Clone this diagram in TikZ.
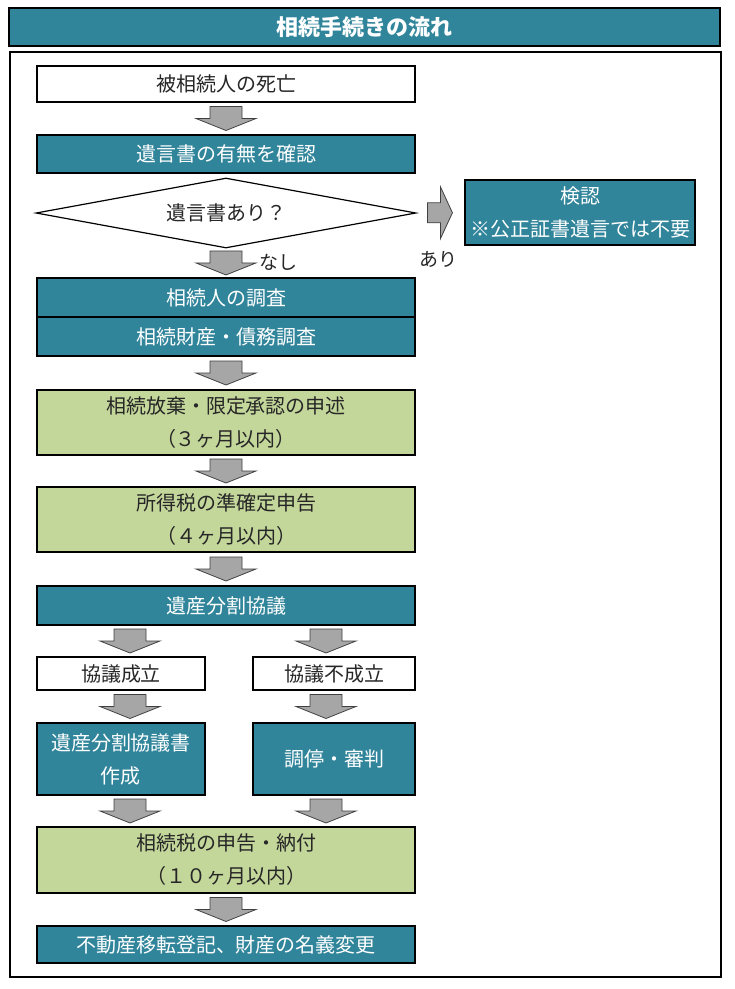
\documentclass[tikz,border=0pt]{standalone}
\usepackage{fontspec}
\setmainfont{Noto Sans CJK JP}
\usetikzlibrary{shapes.geometric,calc}
\definecolor{tealbox}{RGB}{49,133,155}
\definecolor{greenbox}{RGB}{196,215,155}
\definecolor{arrowgray}{RGB}{166,166,166}
\definecolor{txtdark}{RGB}{38,38,38}
\begin{document}
\begin{tikzpicture}[x=1pt,y=-1pt,
  base/.style={draw=black, line width=1.5pt, rectangle, inner sep=0pt, align=center,
    font=\fontsize{20}{33}\selectfont},
  whitebox/.style={base, fill=white, text=txtdark},
  tealb/.style={base, fill=tealbox, text=white},
  greenb/.style={base, fill=greenbox, text=txtdark},
  wide/.style={minimum width=378},
  half/.style={minimum width=168},
  arrowst/.style={draw=black!75, line width=0.8pt, fill=arrowgray, line join=miter},
  darr/.pic={\draw[arrowst] (-16,-12) -- (16,-12) -- (16,0) -- (30,0) -- (0,12) -- (-30,0) -- (-16,0) -- cycle;},
  rarr/.pic={\draw[arrowst] (-13,-10) -- (0,-10) -- (0,-26) -- (12,0) -- (0,26) -- (0,10) -- (-13,10) -- cycle;},
  lbl/.style={font=\fontsize{19}{22}\selectfont, text=txtdark, inner sep=0pt}
]
\useasboundingbox (0,0) rectangle (735,989);
\fill[white] (0,0) rectangle (735,989);

% title and frame
\node[draw=black, line width=1.8pt, fill=tealbox, minimum width=711, minimum height=38,
  text=white, font=\fontsize{22}{26}\selectfont\bfseries, inner sep=0pt] (title) at (364.5,27) {相続手続きの流れ};
\node[draw=black, line width=1.8pt, minimum width=711, minimum height=925, inner sep=0pt] (frame) at (365.5,514.5) {};

% main column
\node[whitebox, wide, minimum height=36] (death) at (226,84) {被相続人の死亡};
\node[tealb, wide, minimum height=38] (check) at (226,154) {遺言書の有無を確認};
\node[draw=black, line width=1.2pt, fill=white, diamond, aspect=5.43, minimum width=380, minimum height=70,
  inner sep=0pt, text=txtdark, font=\fontsize{20}{24}\selectfont] (will) at (226,213) {遺言書あり？};
\node[tealb, minimum width=230, minimum height=65] (probate) at (580,212.5) {検認\\※公正証書遺言では不要};
\node[tealb, wide, minimum height=39] (heirs) at (226,297.5) {相続人の調査};
\node[tealb, wide, minimum height=39] (assets) at (226,336.5) {相続財産・債務調査};
\node[greenb, wide, minimum height=65] (renounce) at (226,422.5) {相続放棄・限定承認の申述\\（３ヶ月以内）};
\node[greenb, wide, minimum height=65] (income) at (226,519.5) {所得税の準確定申告\\（４ヶ月以内）};
\node[tealb, wide, minimum height=39] (council) at (226,605.5) {遺産分割協議};
\node[whitebox, minimum width=168, minimum height=33] (agree) at (121,673.5) {協議成立};
\node[whitebox, minimum width=162, minimum height=33] (disagree) at (334,673.5) {協議不成立};
\node[tealb, minimum width=168, minimum height=72] (doc) at (121,759) {遺産分割協議書\\作成};
\node[tealb, minimum width=162, minimum height=72] (mediate) at (334,759) {調停・審判};
\node[greenb, wide, minimum height=66] (tax) at (226,860) {相続税の申告・納付\\（１０ヶ月以内）};
\node[tealb, wide, minimum height=37] (register) at (226,944.5) {不動産移転登記、財産の名義変更};

% arrows
\coordinate (a1) at ($(death.south)!.5!(check.north)$);
\coordinate (aN) at ($(will.south)!.5!(heirs.north)$);
\coordinate (aY) at ($(will.east)!.5!(probate.west)$);
\coordinate (a3) at ($(assets.south)!.5!(renounce.north)$);
\coordinate (a4) at ($(renounce.south)!.5!(income.north)$);
\coordinate (a5) at ($(income.south)!.5!(council.north)$);
\coordinate (a6l) at ($(agree.north)!.5!(agree.north |- council.south)+(9,0)$);
\coordinate (a6r) at ($(disagree.north)!.5!(disagree.north |- council.south)+(-8,0)$);
\coordinate (a7l) at ($(agree.south)!.5!(doc.north)+(9,0)$);
\coordinate (a7r) at ($(disagree.south)!.5!(mediate.north)+(-8,0)$);
\coordinate (a8l) at ($(doc.south)!.5!(doc.south |- tax.north)+(9,0)$);
\coordinate (a8r) at ($(mediate.south)!.5!(mediate.south |- tax.north)+(-8,0)$);
\coordinate (a9) at ($(tax.south)!.5!(register.north)$);

\foreach \c in {a1,aN,a3,a4,a5,a6l,a6r,a7l,a7r,a8l,a8r,a9} \pic at (\c) {darr};
\pic at (aY) {rarr};

\node[lbl] (nashi) at ($(aN)+(52,-1)$) {なし};
\node[lbl] (ari) at ($(aY)+(-2,47)$) {あり};
\end{tikzpicture}
\end{document}
